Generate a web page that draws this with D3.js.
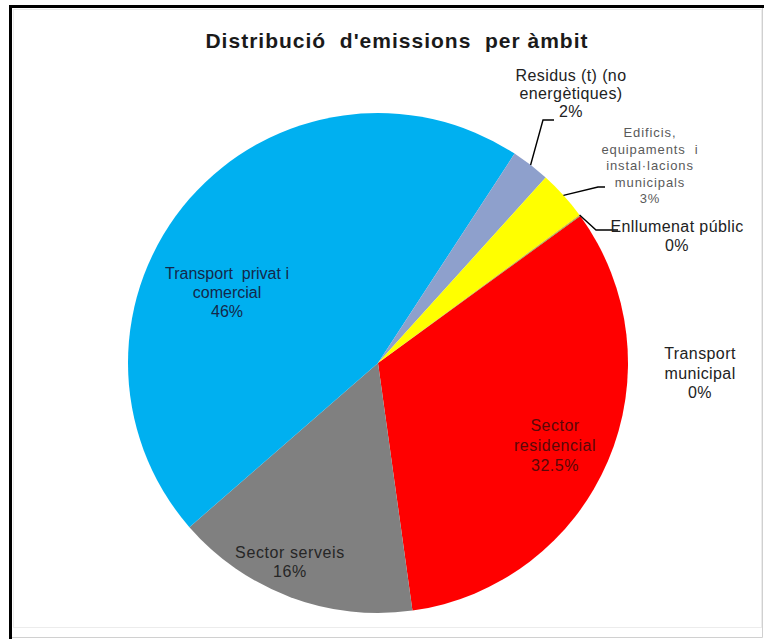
<!DOCTYPE html>
<html>
<head>
<meta charset="utf-8">
<script src="https://cdn.jsdelivr.net/npm/d3@7"></script>
<style>
  html, body { margin: 0; padding: 0; background: #fff; }
  svg { display: block; }
</style>
</head>
<body>
<script>
// ---- data ----
const categories = [
  "Sector residencial",
  "Sector serveis",
  "Transport privat i comercial",
  "Residus (t) (no energètiques)",
  "Edificis, equipaments i instal·lacions municipals",
  "Enllumenat públic",
  "Transport municipal"
];
const values = [32.8, 15.8, 45.6, 2.5, 3.2, 0.05, 0.05];
const pctLabels = ["32.5%", "16%", "46%", "2%", "3%", "0%", "0%"];
const labelLines = [
  ["Sector", "residencial"],
  ["Sector serveis"],
  ["Transport  privat i", "comercial"],
  ["Residus (t) (no", "energètiques)"],
  ["Edificis,", "equipaments  i", "instal·lacions", "municipals"],
  ["Enllumenat públic"],
  ["Transport", "municipal"]
];
const colors = ["#FF0000", "#808080", "#00B0F0", "#8EA0CC", "#FFFF00", "#FFC000", "#70AD47"];
const title = "Distribució  d'emissions  per àmbit";

// ---- layout ----
const W = 764, H = 639;
const cx = 378, cy = 363, R = 250;
const startDeg = 54;

const labelLayout = [
  { x: 555, y: 431, fs: 16, ls: 0.5, lh: 20, fill: "#5a0808" },
  { x: 290, y: 558, fs: 16, ls: 0.6, lh: 18.5, fill: "#262626" },
  { x: 227, y: 279, fs: 16, ls: 0, lh: 19, fill: "#14284a" },
  { x: 571, y: 81, fs: 16, ls: 0.4, lh: 18, fill: "#222", leader: [[543, 120], [554, 120]] },
  { x: 650, y: 137, fs: 13, ls: 0.9, lh: 16.5, fill: "#5a5a5a", leader: [[598, 187], [605, 187]] },
  { x: 677, y: 232, fs: 16, ls: 0.4, lh: 19, fill: "#222", leader: [[596, 230], [618, 230]] },
  { x: 700, y: 359, fs: 16, ls: 0.4, lh: 19.5, fill: "#222" }
];

const svg = d3.select("body").append("svg")
  .attr("width", W).attr("height", H);

svg.append("rect").attr("width", W).attr("height", H).attr("fill", "#fff");

svg.append("rect")
  .attr("x", 13.5).attr("y", 9.5).attr("width", 748).attr("height", 618)
  .attr("fill", "none").attr("stroke", "#ececec").attr("stroke-width", 1);

svg.append("path")
  .attr("d", `M10.5,${H} L10.5,6.5 L${W},6.5`)
  .attr("fill", "none").attr("stroke", "#000").attr("stroke-width", 3);
svg.append("path")
  .attr("d", `M${W - 1.5},8 L${W - 1.5},${H - 1.5} L12,${H - 1.5}`)
  .attr("fill", "none").attr("stroke", "#d0d0d0").attr("stroke-width", 1);

svg.append("text")
  .attr("x", 397).attr("y", 48)
  .attr("text-anchor", "middle")
  .attr("font-family", "Liberation Sans, Arial, sans-serif")
  .attr("font-weight", "bold")
  .attr("font-size", 21)
  .attr("letter-spacing", 1)
  .attr("fill", "#1a1a1a")
  .attr("xml:space", "preserve")
  .style("white-space", "pre")
  .text(title);

const data = categories.map((c, i) => ({ name: c, value: values[i], i }));
const pie = d3.pie().sort(null).value(d => d.value)
  .startAngle(startDeg * Math.PI / 180)
  .endAngle(startDeg * Math.PI / 180 + 2 * Math.PI);
const arcs = pie(data);
const arc = d3.arc().innerRadius(0).outerRadius(R);

const g = svg.append("g").attr("transform", `translate(${cx},${cy})`);
g.selectAll("path.slice").data(arcs).join("path")
  .attr("class", "slice")
  .attr("d", arc)
  .attr("fill", d => colors[d.data.i]);

arcs.forEach(a => {
  const L = labelLayout[a.data.i];
  if (!L.leader) return;
  const mid = (a.startAngle + a.endAngle) / 2;
  const p0 = [cx + R * Math.sin(mid), cy - R * Math.cos(mid)];
  svg.append("path")
    .attr("d", d3.line()([p0].concat(L.leader)))
    .attr("fill", "none").attr("stroke", "#000").attr("stroke-width", 1.4);
});

arcs.forEach(a => {
  const i = a.data.i;
  const L = labelLayout[i];
  const lines = labelLines[i].concat([pctLabels[i]]);
  const t = svg.append("text")
    .attr("text-anchor", "middle")
    .attr("font-family", "Liberation Sans, Arial, sans-serif")
    .attr("font-size", L.fs)
    .attr("letter-spacing", L.ls)
    .attr("fill", L.fill)
    .attr("xml:space", "preserve")
    .style("white-space", "pre");
  lines.forEach((ln, k) => {
    t.append("tspan").attr("x", L.x).attr("y", L.y + k * L.lh).text(ln);
  });
});
</script>
</body>
</html>
